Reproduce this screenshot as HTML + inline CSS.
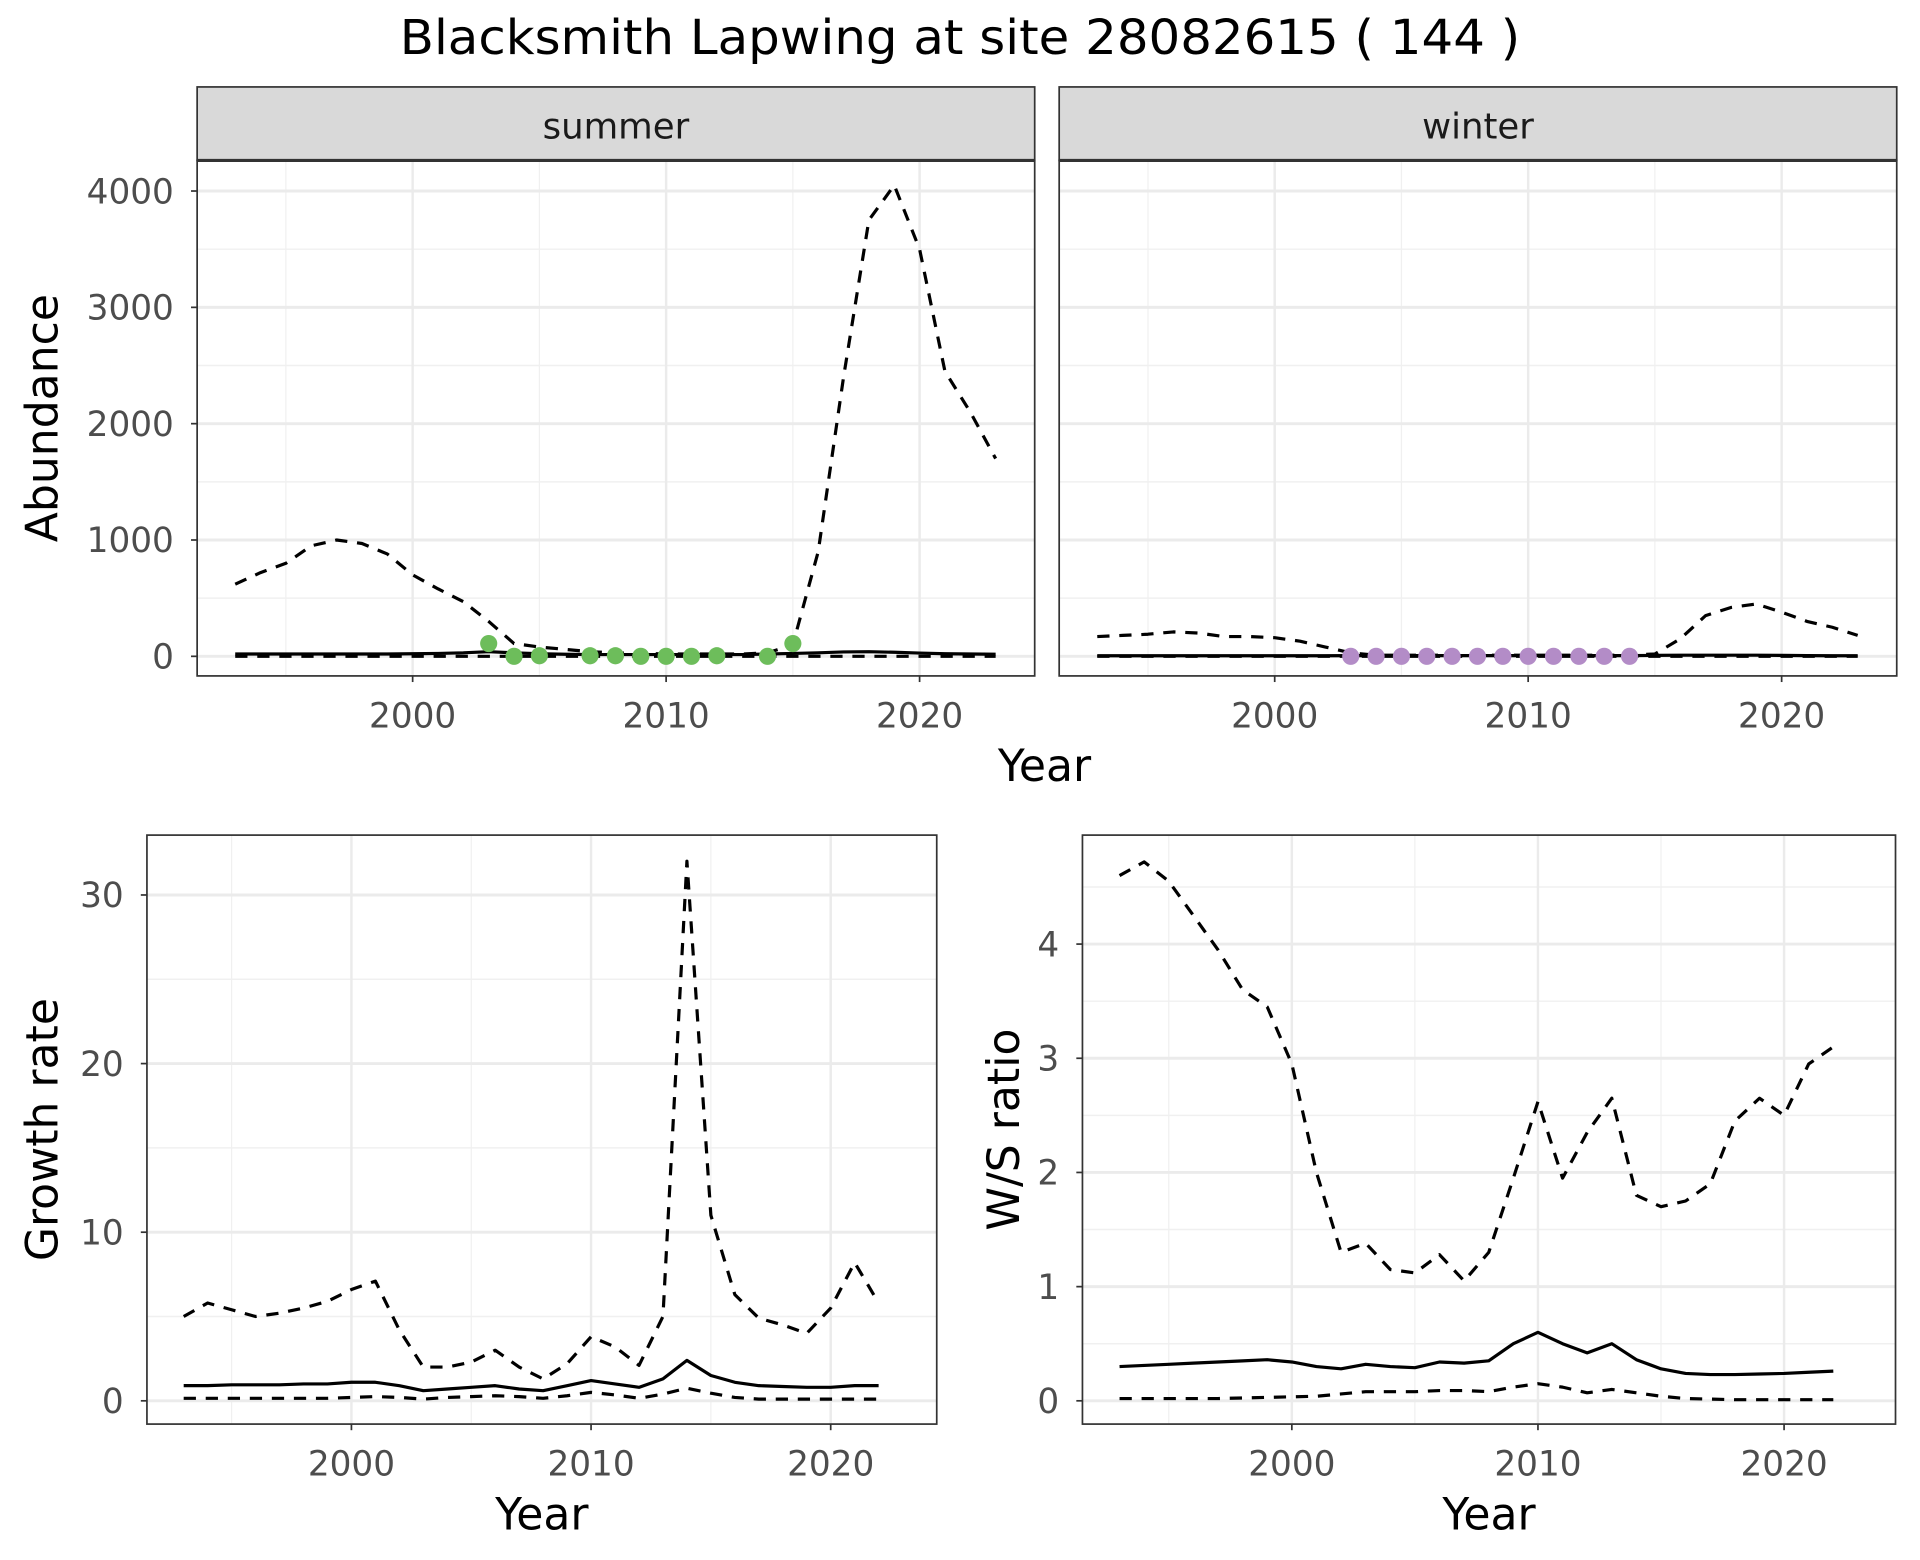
<!DOCTYPE html>
<html><head><meta charset="utf-8">
<style>
html,body{margin:0;padding:0;background:#fff;}
svg{display:block;font-family:"DejaVu Sans","Liberation Sans",sans-serif;}
</style></head>
<body>
<svg id="chart" width="1920" height="1560" viewBox="0 0 1568 1274" preserveAspectRatio="none" xmlns="http://www.w3.org/2000/svg">
<text x="784" y="44" font-size="39" text-anchor="middle" fill="#000" textLength="915" lengthAdjust="spacingAndGlyphs">Blacksmith Lapwing at site 28082615 ( 144 )</text>
</svg>
<script>
// ---- data ----
const yearsAbund = [1993,1994,1995,1996,1997,1998,1999,2000,2001,2002,2003,2004,2005,2006,2007,2008,2009,2010,2011,2012,2013,2014,2015,2016,2017,2018,2019,2020,2021,2022,2023];
const summerUpper = [620,720,800,950,1000,970,880,700,580,470,300,110,80,60,40,30,25,20,20,20,20,30,100,900,2400,3750,4050,3500,2450,2100,1700];
const summerMid = [20,20,20,20,20,20,20,22,25,30,40,30,22,18,15,15,15,15,15,15,15,20,25,30,38,40,35,28,22,20,18];
const summerLower = [0,0,0,0,0,0,0,0,0,0,0,0,0,0,0,0,0,0,0,0,0,0,0,0,0,0,0,0,0,0,0];
const summerPtYears = [2003,2004,2005,2007,2008,2009,2010,2011,2012,2014,2015];
const summerPtVals = [110,0,5,5,5,0,0,0,5,0,110];
const winterUpper = [170,180,190,210,200,170,170,160,130,80,30,10,10,10,10,10,10,10,10,10,10,10,20,150,350,420,450,380,300,250,180];
const winterMid = [5,5,5,5,5,5,5,5,5,5,6,6,6,6,6,6,6,6,6,6,6,6,8,10,10,10,10,8,6,5,5];
const winterLower = [0,0,0,0,0,0,0,0,0,0,0,0,0,0,0,0,0,0,0,0,0,0,0,0,0,0,0,0,0,0,0];
const winterPtYears = [2003,2004,2005,2006,2007,2008,2009,2010,2011,2012,2013,2014];
const winterPtVals = [0,0,0,0,0,0,0,0,0,0,0,0];
const yearsRate = [1993,1994,1995,1996,1997,1998,1999,2000,2001,2002,2003,2004,2005,2006,2007,2008,2009,2010,2011,2012,2013,2014,2015,2016,2017,2018,2019,2020,2021,2022];
const growthUpper = [5,5.8,5.4,5,5.2,5.5,5.9,6.6,7.1,4.2,2,2,2.3,3,2,1.3,2.2,3.8,3.2,2.1,5,32,11,6.3,4.9,4.5,4,5.5,8.2,5.8];
const growthMid = [0.9,0.9,0.95,0.95,0.95,1,1,1.1,1.1,0.9,0.6,0.7,0.8,0.9,0.7,0.6,0.9,1.2,1.0,0.8,1.3,2.4,1.5,1.1,0.9,0.85,0.8,0.8,0.9,0.9];
const growthLower = [0.15,0.15,0.15,0.15,0.15,0.15,0.15,0.2,0.25,0.2,0.1,0.2,0.25,0.3,0.25,0.15,0.3,0.5,0.35,0.15,0.4,0.75,0.45,0.2,0.1,0.1,0.1,0.1,0.1,0.1];
const ratioUpper = [4.6,4.72,4.55,4.25,3.95,3.6,3.45,2.95,2.0,1.3,1.38,1.15,1.12,1.28,1.05,1.3,1.95,2.62,1.95,2.35,2.65,1.8,1.7,1.75,1.9,2.45,2.65,2.5,2.95,3.1];
const ratioMid = [0.3,0.31,0.32,0.33,0.34,0.35,0.36,0.34,0.3,0.28,0.32,0.3,0.29,0.34,0.33,0.35,0.5,0.6,0.5,0.42,0.5,0.36,0.28,0.24,0.23,0.23,0.235,0.24,0.25,0.26];
const ratioLower = [0.02,0.02,0.02,0.02,0.02,0.025,0.03,0.035,0.04,0.06,0.08,0.08,0.08,0.09,0.09,0.08,0.12,0.15,0.12,0.07,0.1,0.07,0.04,0.02,0.015,0.01,0.01,0.01,0.01,0.01];
const abundTicks = [0,1000,2000,3000,4000];
const growthTicks = [0,10,20,30];
const ratioTicks = [0,1,2,3,4];
const yearTicks = [2000,2010,2020];

const NS = "http://www.w3.org/2000/svg";
const svg = document.getElementById('chart');
function mk(tag, attrs, parent){const e=document.createElementNS(NS,tag);for(const k in attrs)e.setAttribute(k,attrs[k]);(parent||svg).appendChild(e);return e;}

function panel(cfg){
  const g = mk('g',{});
  
  
  const {x0,x1,y0,y1} = cfg;
  const sx = v => cfg.xa + (v - 2000) * cfg.xs;
  const sy = v => cfg.ya - v * cfg.ys;
  mk('rect',{x:x0,y:y0,width:x1-x0,height:y1-y0,fill:'#fff'},g);
  for (let yr=1995; yr<=2025; yr+=10){const X=sx(yr); if(X>x0&&X<x1){mk('line',{x1:X,x2:X,y1:y0,y2:y1,stroke:'#f0f0f0','stroke-width':1},g);}}
  cfg.ticks.forEach(t=>{const Y=sy(t+cfg.minorStep); if(Y>y0&&Y<y1) mk('line',{x1:x0,x2:x1,y1:Y,y2:Y,stroke:'#f0f0f0','stroke-width':1.2},g);});
  yearTicks.forEach(yr=>{const X=sx(yr); mk('line',{x1:X,x2:X,y1:y0,y2:y1,stroke:'#ebebeb','stroke-width':2},g);});
  cfg.ticks.forEach(t=>{const Y=sy(t); mk('line',{x1:x0,x2:x1,y1:Y,y2:Y,stroke:'#ebebeb','stroke-width':2.4},g);});
  function line(xs, vals, dash, nm){
    const p = mk('polyline',{points: vals.map((v,i)=>sx(xs[i])+','+sy(v)).join(' '), fill:'none', stroke:'#000','stroke-width':2.6,'stroke-linejoin':'round'},g);
    if(dash) p.setAttribute('stroke-dasharray','10,8');
    
    
  }
  line(cfg.years, cfg.upper, true, 'upper-bound-line');
  line(cfg.years, cfg.lower, true, 'lower-bound-line');
  line(cfg.years, cfg.mid, false, 'estimate-line');
  if (cfg.ptYears) cfg.ptYears.forEach((yr,i)=>{
    const c = mk('circle',{cx:sx(yr),cy:sy(cfg.ptVals[i]),r:7,fill:cfg.ptColor},g);
    
    
  });
  mk('rect',{x:x0,y:y0,width:x1-x0,height:y1-y0,fill:'none',stroke:'#333','stroke-width':1.4},g);
  if (cfg.showY){
    cfg.ticks.forEach(t=>{const Y=sy(t);
      mk('line',{x1:x0-5,x2:x0,y1:Y,y2:Y,stroke:'#333','stroke-width':1.4},g);
      const tx=mk('text',{x:x0-19,y:Y+10,'font-size':28,'text-anchor':'end',fill:'#4d4d4d'},g); tx.textContent=t;
      
      
    });
  }
  yearTicks.forEach(yr=>{const X=sx(yr);
    mk('line',{x1:X,x2:X,y1:y1,y2:y1+5,stroke:'#333','stroke-width':1.4},g);
    const tx=mk('text',{x:X,y:y1+42,'font-size':28,'text-anchor':'middle',fill:'#4d4d4d'},g); tx.textContent=yr;
    
    
  });
  if (cfg.strip){
    mk('rect',{x:x0,y:71,width:x1-x0,height:y0-71,fill:'#d9d9d9',stroke:'#333','stroke-width':1.4},g);
    mk('line',{x1:x0,x2:x1,y1:y0,y2:y0,stroke:'#333','stroke-width':2.5},g);
    const st=mk('text',{x:(x0+x1)/2,y:113,'font-size':29,'text-anchor':'middle',fill:'#1a1a1a'},g); st.textContent=cfg.strip;
    
    
  }
  if (cfg.xTitle){
    const t=mk('text',{x:(x0+x1)/2,y:y1+86,'font-size':36,'text-anchor':'middle',fill:'#000'},g); t.textContent='Year';
    
    
  }
  if (cfg.yTitle){
    const t=mk('text',{x:0,y:0,'font-size':36,'text-anchor':'middle',fill:'#000',transform:`translate(${cfg.yTitleX},${(y0+y1)/2}) rotate(-90)`},g); t.textContent=cfg.yTitle;
    
    
  }
}

panel({name:'summer-abundance-panel',x0:161,x1:845,y0:131,y1:552,xa:337,xs:20.7,ya:536,ys:0.095,ticks:abundTicks,minorStep:500,
  years:yearsAbund,upper:summerUpper,mid:summerMid,lower:summerLower,ptYears:summerPtYears,ptVals:summerPtVals,ptColor:'#6dbd5b',showY:true,strip:'summer',yTitle:'Abundance',yTitleX:47});
panel({name:'winter-abundance-panel',x0:865,x1:1549,y0:131,y1:552,xa:1041,xs:20.7,ya:536,ys:0.095,ticks:abundTicks,minorStep:500,
  years:yearsAbund,upper:winterUpper,mid:winterMid,lower:winterLower,ptYears:winterPtYears,ptVals:winterPtVals,ptColor:'#b38cc7',showY:false,strip:'winter'});
const yt=mk('text',{x:853,y:638,'font-size':36,'text-anchor':'middle',fill:'#000'}); yt.textContent='Year';


panel({name:'growth-rate-panel',x0:120,x1:765,y0:682,y1:1163,xa:287,xs:19.57,ya:1144,ys:13.77,ticks:growthTicks,minorStep:5,
  years:yearsRate,upper:growthUpper,mid:growthMid,lower:growthLower,showY:true,xTitle:true,yTitle:'Growth rate',yTitleX:47});
panel({name:'ws-ratio-panel',x0:884,x1:1548,y0:682,y1:1163,xa:1055,xs:20.1,ya:1144,ys:93.25,ticks:ratioTicks,minorStep:0.5,
  years:yearsRate,upper:ratioUpper,mid:ratioMid,lower:ratioLower,showY:true,xTitle:true,yTitle:'W/S ratio',yTitleX:832});
</script>
</body></html>
